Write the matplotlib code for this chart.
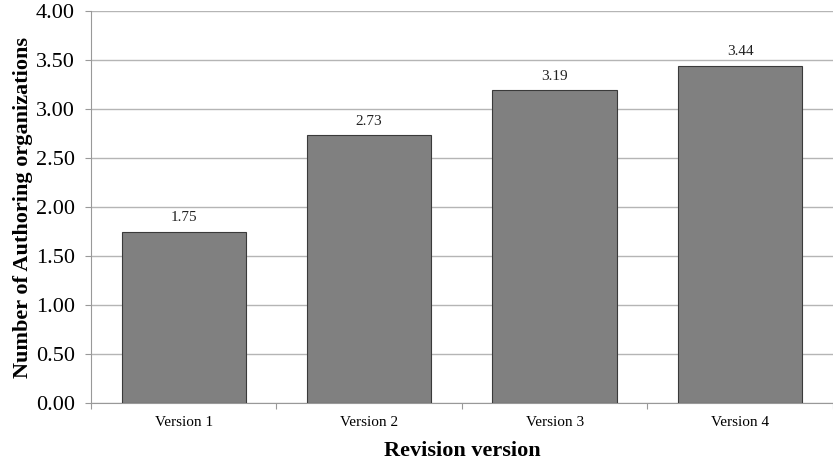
import numpy as np
import matplotlib.pyplot as plt

# 各版本的平均作者组织数量
versions = ["Version 1", "Version 2", "Version 3", "Version 4"]
avg_orgs = [1.75, 2.73, 3.19, 3.44]
y_ticks = [0.0, 0.5, 1.0, 1.5, 2.0, 2.5, 3.0, 3.5, 4.0]


def main():
    plt.rcParams['font.family'] = ['Liberation Serif', 'DejaVu Serif']
    fig = plt.figure(figsize=(8.33, 4.61), dpi=100)
    ax = fig.add_axes([0.1092, 0.1258, 0.8905, 0.8503])

    x = np.arange(len(versions))
    bars = ax.bar(x, avg_orgs, width=0.67, color='#808080',
                  edgecolor='#3a3a3a', linewidth=0.8, zorder=3)
    for b, v in zip(bars, avg_orgs):
        ax.text(b.get_x() + b.get_width() / 2, v + 0.08, f"{v:.2f}",
                ha='center', va='bottom', fontsize=11, color='#222222')

    ax.set_xlim(-0.5, len(versions) - 0.5)
    ax.set_ylim(0, 4.0)
    ax.set_yticks(y_ticks)
    ax.set_yticklabels([f"{t:.2f}" for t in y_ticks], fontsize=16)
    ax.yaxis.grid(True, color='#b5b5b5', linewidth=1.0, zorder=0)

    # 类别刻度在组间边界，标签居中
    ax.set_xticks(np.arange(len(versions) + 1) - 0.5)
    ax.set_xticklabels([])
    ax.set_xticks(x, minor=True)
    ax.set_xticklabels(versions, minor=True, fontsize=11)
    ax.tick_params(axis='x', which='minor', length=0, pad=9)
    ax.tick_params(axis='x', which='major', length=4.5, color='#999999')
    ax.tick_params(axis='y', length=4.5, color='#999999', pad=7)

    for s in ['top', 'right']:
        ax.spines[s].set_visible(False)
    for s in ['left', 'bottom']:
        ax.spines[s].set_color('#999999')

    ax.set_xlabel("Revision version", fontsize=16, fontweight='bold', labelpad=9)
    ax.set_ylabel("Number of Authoring organizations", fontsize=16,
                  fontweight='bold', labelpad=2)

    fig.savefig("out.png", dpi=100)


if __name__ == "__main__":
    main()
